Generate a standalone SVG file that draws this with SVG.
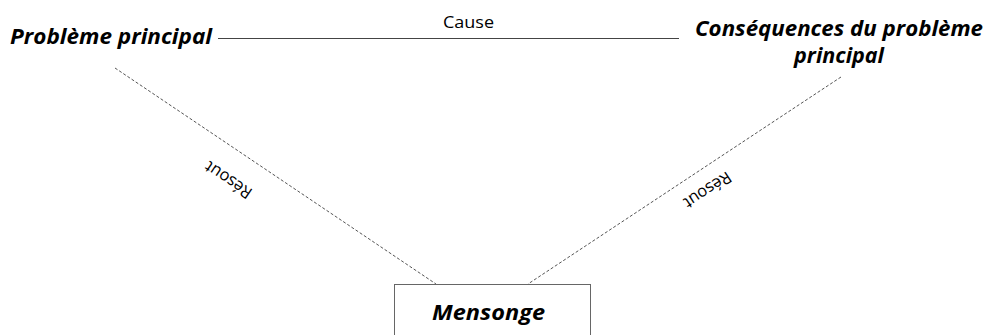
<svg xmlns="http://www.w3.org/2000/svg" width="987" height="335" viewBox="0 0 987 335">
<style>
.t{font-family:"Open Sans","Liberation Sans",sans-serif;font-weight:bold;font-style:italic;font-size:21.5px;fill:#000}
.l{font-family:"Open Sans","Liberation Sans",sans-serif;font-size:16.5px;fill:#000}
.dash{stroke:#555;stroke-width:1;stroke-dasharray:3,2;fill:none}
</style>
<rect width="987" height="335" fill="#fff"/>
<g id="connectors">
<line x1="218" y1="38.5" x2="679" y2="38.5" stroke="#444" stroke-width="1"/>
<text class="l" x="443" y="28" textLength="51" lengthAdjust="spacingAndGlyphs">Cause</text>
<line class="dash" x1="115" y1="68" x2="436" y2="284"/>
<text class="l" transform="translate(229,179) rotate(214)" text-anchor="middle" dominant-baseline="middle">Résout</text>
<line class="dash" x1="841" y1="77" x2="528" y2="284"/>
<text class="l" transform="translate(707,189) rotate(146.8)" text-anchor="middle" dominant-baseline="middle">Résout</text>
</g>
<g id="n1"><text class="t" x="10" y="44" textLength="202" lengthAdjust="spacingAndGlyphs">Problème principal</text></g>
<g id="n2"><text class="t" x="695" y="36" textLength="288" lengthAdjust="spacingAndGlyphs">Conséquences du problème</text><text class="t" x="839" y="63" text-anchor="middle">principal</text></g>
<g id="n3"><rect x="394.5" y="284.5" width="196" height="60" fill="#fff" stroke="#666" stroke-width="1"/><text class="t" x="432" y="320" textLength="113" lengthAdjust="spacingAndGlyphs">Mensonge</text></g>
</svg>
